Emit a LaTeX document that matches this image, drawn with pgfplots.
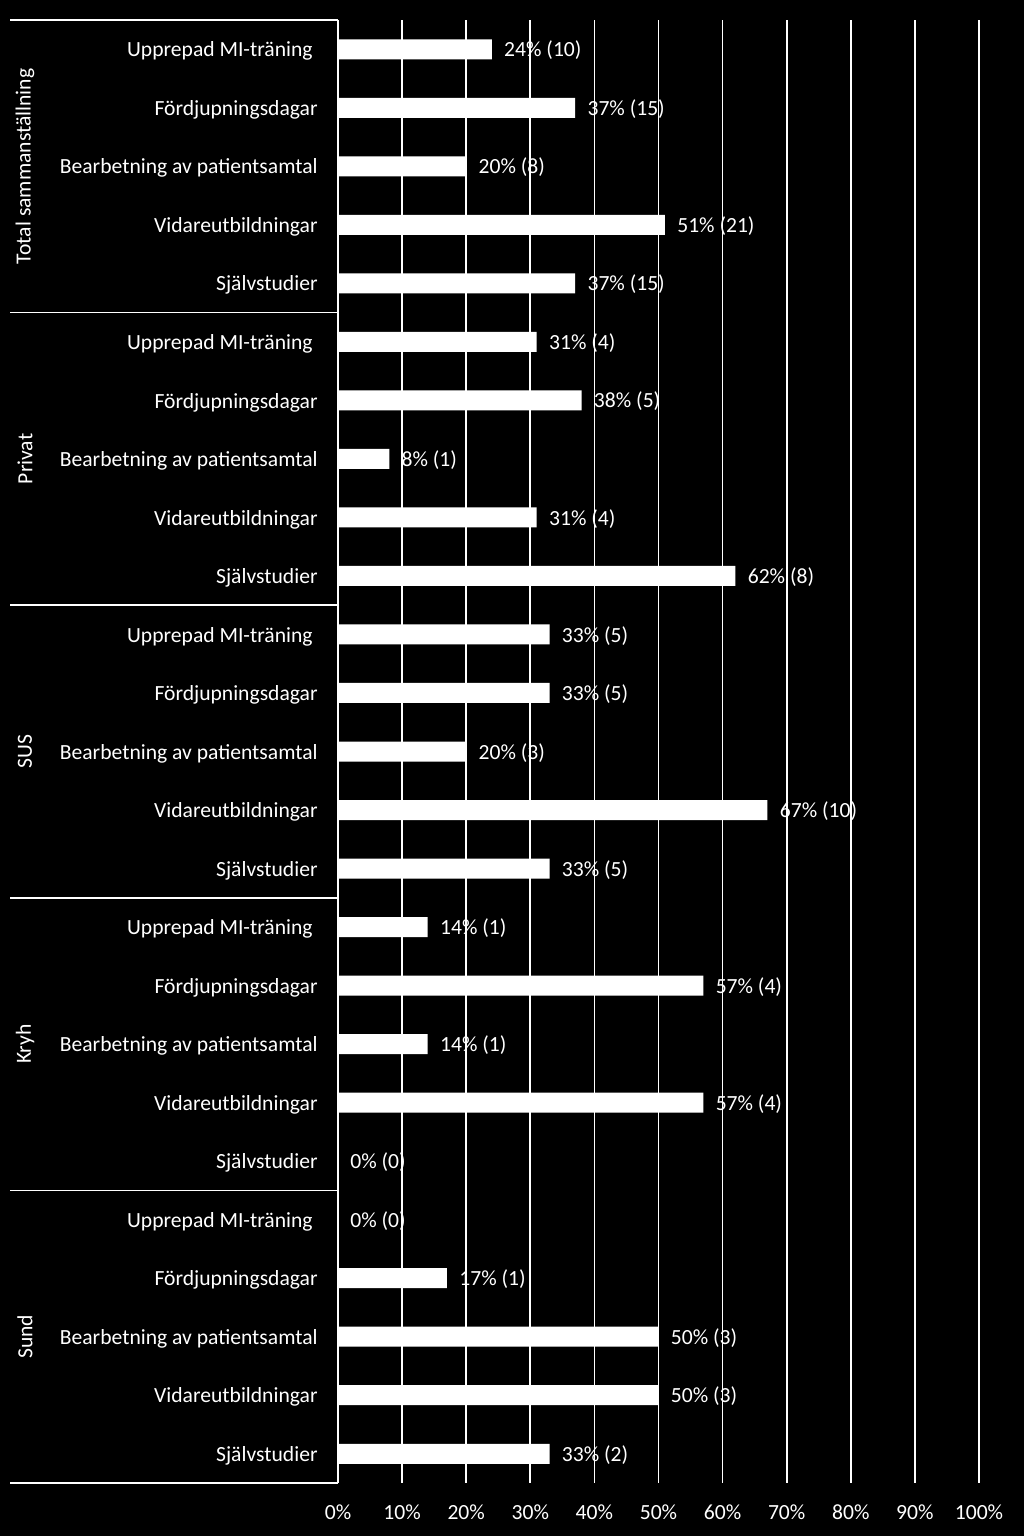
\documentclass[border=0pt]{standalone}
\usepackage{pgfplots}
\pgfplotsset{compat=1.18}
\usepackage{fontspec}
\setmainfont{Carlito}
\usetikzlibrary{backgrounds}

\begin{document}
\begin{tikzpicture}[font=\fontsize{10.8}{13}\selectfont]
\begin{axis}[
  at={(0,0)}, anchor=south west, scale only axis,
  width=320.5pt, height=731.5pt,
  xmin=0, xmax=100, ymin=-0.5, ymax=24.5, y dir=reverse,
  xbar, bar width=10pt, bar shift=0pt,
  axis line style={draw=none},
  major tick length=0pt,
  xtick={0,10,...,100},
  xticklabel={\pgfmathprintnumber{\tick}\%},
  xticklabel style={anchor=center, yshift=-14.5pt, text=white},
  ytick={0,...,24},
  yticklabels={
    {Upprepad MI-träning\kern2.5pt},Fördjupningsdagar,Bearbetning av patientsamtal,Vidareutbildningar,Självstudier,
    {Upprepad MI-träning\kern2.5pt},Fördjupningsdagar,Bearbetning av patientsamtal,Vidareutbildningar,Självstudier,
    {Upprepad MI-träning\kern2.5pt},Fördjupningsdagar,Bearbetning av patientsamtal,Vidareutbildningar,Självstudier,
    {Upprepad MI-träning\kern2.5pt},Fördjupningsdagar,Bearbetning av patientsamtal,Vidareutbildningar,Självstudier,
    {Upprepad MI-träning\kern2.5pt},Fördjupningsdagar,Bearbetning av patientsamtal,Vidareutbildningar,Självstudier},
  yticklabel style={anchor=east, inner sep=0pt, xshift=-10pt, yshift=-1pt, text=white},
  xmajorgrids, grid style={white, line width=0.8pt},
  axis on top,
  clip=false,
  point meta=explicit symbolic,
  nodes near coords,
  nodes near coords style={anchor=west, inner sep=0pt, xshift=6pt, yshift=-0.6pt, text=white},
  /pgf/number format/assume math mode=true,
]
\addplot[fill=white, draw=none] coordinates {
  (24,0) [24\% (10)]
  (37,1) [37\% (15)]
  (20,2) [20\% (8)]
  (51,3) [51\% (21)]
  (37,4) [37\% (15)]
  (31,5) [31\% (4)]
  (38,6) [38\% (5)]
  (8,7) [8\% (1)]
  (31,8) [31\% (4)]
  (62,9) [62\% (8)]
  (33,10) [33\% (5)]
  (33,11) [33\% (5)]
  (20,12) [20\% (3)]
  (67,13) [67\% (10)]
  (33,14) [33\% (5)]
  (14,15) [14\% (1)]
  (57,16) [57\% (4)]
  (14,17) [14\% (1)]
  (57,18) [57\% (4)]
  (0,19) [0\% (0)]
  (0,20) [0\% (0)]
  (17,21) [17\% (1)]
  (50,22) [50\% (3)]
  (50,23) [50\% (3)]
  (33,24) [33\% (2)]
};
\draw[white, line width=0.8pt] (axis cs:0,-0.5) -- (axis cs:0,24.5);
\draw[white, line width=0.8pt] (axis cs:0,-0.5) -- ++(-164pt,0pt);
\draw[white, line width=0.8pt] (axis cs:0,4.5) -- ++(-164pt,0pt);
\draw[white, line width=0.8pt] (axis cs:0,9.5) -- ++(-164pt,0pt);
\draw[white, line width=0.8pt] (axis cs:0,14.5) -- ++(-164pt,0pt);
\draw[white, line width=0.8pt] (axis cs:0,19.5) -- ++(-164pt,0pt);
\draw[white, line width=0.8pt] (axis cs:0,24.5) -- ++(-164pt,0pt);
\node[rotate=90, text=white] at ([xshift=-156.5pt]axis cs:0,2) {Total sammanställning};
\node[rotate=90, text=white] at ([xshift=-156.5pt]axis cs:0,7) {Privat};
\node[rotate=90, text=white] at ([xshift=-156.5pt]axis cs:0,12) {SUS};
\node[rotate=90, text=white] at ([xshift=-156.5pt]axis cs:0,17) {Kryh};
\node[rotate=90, text=white] at ([xshift=-156.5pt]axis cs:0,22) {Sund};
\end{axis}
\pgfresetboundingbox
\begin{scope}[on background layer]
\fill[black] (-169pt,-26.5pt) rectangle (343pt,741.5pt);
\end{scope}
\end{tikzpicture}
\end{document}
